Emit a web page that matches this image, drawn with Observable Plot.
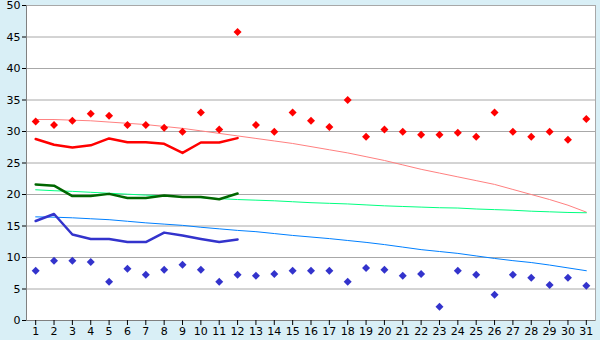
<!DOCTYPE html>
<html>
<head>
<meta charset="utf-8">
<script src="https://cdn.jsdelivr.net/npm/d3@7"></script>
<script src="https://cdn.jsdelivr.net/npm/@observablehq/plot@0.6"></script>
<style>
  html, body { margin: 0; padding: 0; background: #d9eff6; }
  #chart svg { display: block; }
</style>
</head>
<body>
<div id="chart"></div>
<script>
const days = d3.range(1, 32);
const months = d3.range(1, 13);
const yTicks = [0, 5, 10, 15, 20, 25, 30, 35, 40, 45, 50];

const maxPoints = [31.6, 31.05, 31.7, 32.8, 32.5, 31.05, 31.05, 30.6, 29.95, 33.0,
  30.3, 45.8, 31.05, 29.95, 33.0, 31.7, 30.7, 35.0, 29.15, 30.3,
  29.95, 29.5, 29.5, 29.8, 29.15, 33.0, 29.95, 29.15, 29.95, 28.7, 32.0];
const minPoints = [7.9, 9.5, 9.5, 9.3, 6.15, 8.2, 7.25, 8.05, 8.85, 8.05,
  6.15, 7.25, 7.1, 7.4, 7.9, 7.9, 7.9, 6.15, 8.35, 8.05,
  7.1, 7.4, 2.2, 7.9, 7.25, 4.1, 7.25, 6.8, 5.65, 6.8, 5.5];

const redLine = [28.8, 27.9, 27.45, 27.8, 28.9, 28.3, 28.3, 28.05, 26.6, 28.25, 28.25, 28.95];
const greenLine = [21.6, 21.4, 19.75, 19.75, 20.1, 19.45, 19.45, 19.85, 19.6, 19.6, 19.25, 20.15];
const blueLine = [15.8, 16.9, 13.65, 12.95, 12.95, 12.45, 12.45, 13.95, 13.5, 12.95, 12.45, 12.85];

const redTrend = [31.9, 31.9, 31.8, 31.7, 31.5, 31.3, 31.1, 30.8, 30.5, 30.1,
  29.7, 29.3, 28.9, 28.5, 28.1, 27.6, 27.1, 26.6, 26.0, 25.4,
  24.7, 24.0, 23.4, 22.8, 22.2, 21.6, 20.8, 20.0, 19.2, 18.3, 17.2];
const greenTrend = [20.75, 20.6, 20.5, 20.35, 20.2, 20.05, 19.9, 19.8, 19.65, 19.5,
  19.35, 19.2, 19.1, 19.0, 18.85, 18.7, 18.6, 18.5, 18.35, 18.2,
  18.1, 18.0, 17.9, 17.85, 17.7, 17.6, 17.5, 17.35, 17.25, 17.15, 17.1];
const blueTrend = [16.45, 16.4, 16.3, 16.15, 16.0, 15.75, 15.5, 15.3, 15.1, 14.8,
  14.55, 14.3, 14.1, 13.8, 13.5, 13.25, 13.0, 12.7, 12.4, 12.05,
  11.65, 11.25, 10.95, 10.65, 10.25, 9.85, 9.5, 9.2, 8.8, 8.35, 7.9];

const pts = (xs, ys) => xs.map((x, i) => ({x, y: ys[i]}));

const chart = Plot.plot({
  width: 600,
  height: 340,
  marginTop: 5,
  marginBottom: 20,
  marginLeft: 26,
  marginRight: 5,
  style: {background: "#d9eff6", fontFamily: "DejaVu Sans, Verdana, sans-serif", fontSize: "11px", color: "#000"},
  x: {domain: [0.5, 31.5], axis: null},
  y: {domain: [0, 50], axis: null},
  marks: [
    Plot.frame({fill: "white", stroke: "#a8a8a8"}),
    Plot.ruleY(yTicks.filter(d => d > 0), {stroke: "#a8a8a8", strokeWidth: 1}),
    Plot.ruleY([0], {stroke: "#808080"}),
    Plot.ruleX([0.5], {stroke: "#808080"}),
    Plot.axisX({ticks: days, tickSize: 5, tickPadding: 2, stroke: "#000", fill: "#000", label: null}),
    Plot.axisY({ticks: yTicks, tickSize: 4, tickPadding: 2, stroke: "#000", fill: "#000", label: null}),
    Plot.line(pts(days, redTrend), {x: "x", y: "y", stroke: "#ff8080", strokeWidth: 1}),
    Plot.line(pts(days, greenTrend), {x: "x", y: "y", stroke: "#00ff80", strokeWidth: 1}),
    Plot.line(pts(days, blueTrend), {x: "x", y: "y", stroke: "#0080ff", strokeWidth: 1}),
    Plot.line(pts(months, redLine), {x: "x", y: "y", stroke: "#ff0000", strokeWidth: 2.5}),
    Plot.line(pts(months, greenLine), {x: "x", y: "y", stroke: "#006600", strokeWidth: 2.5}),
    Plot.line(pts(months, blueLine), {x: "x", y: "y", stroke: "#3333cc", strokeWidth: 2.5}),
    Plot.dot(pts(days, maxPoints), {x: "x", y: "y", symbol: "diamond2", r: 3.6, fill: "#ff0000", stroke: "none"}),
    Plot.dot(pts(days, minPoints), {x: "x", y: "y", symbol: "diamond2", r: 3.6, fill: "#3333cc", stroke: "none"})
  ]
});
document.getElementById("chart").appendChild(chart);
</script>
</body>
</html>
